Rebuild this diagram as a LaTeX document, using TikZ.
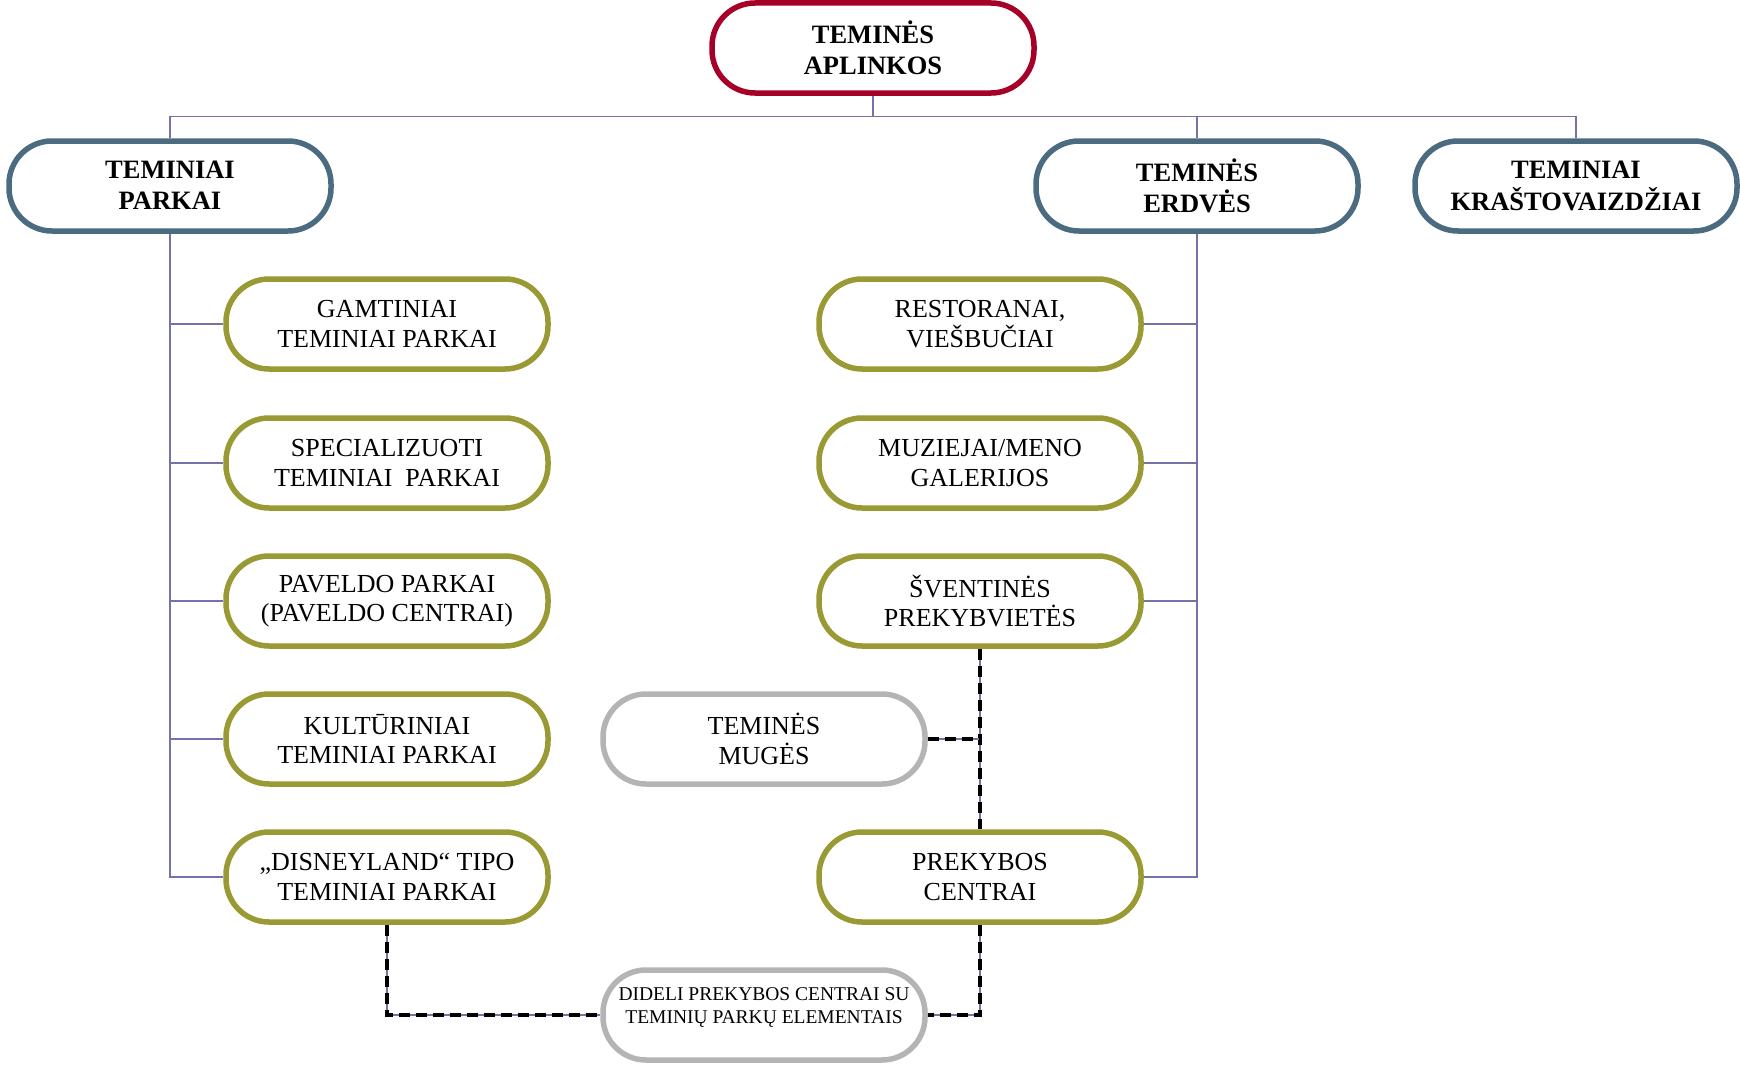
\documentclass[tikz,border=0pt]{standalone}
\usepackage{fontspec}
\setmainfont{Liberation Serif}
\usetikzlibrary{backgrounds}
\definecolor{cRed}{RGB}{166,0,40}
\definecolor{cBlue}{RGB}{74,107,128}
\definecolor{cOlive}{RGB}{154,154,52}
\definecolor{cGrey}{RGB}{180,180,180}
\definecolor{cLine}{RGB}{115,115,170}
\tikzset{
 base/.style={rectangle, rounded corners=43pt, minimum width=322pt, minimum height=90pt, line width=5.5pt, align=center, fill=white, inner sep=0pt},
 topbox/.style={base, draw=cRed, font=\bfseries\fontsize{26.5}{31}\selectfont},
 mainbox/.style={base, draw=cBlue, font=\bfseries\fontsize{26.5}{31}\selectfont},
 subbox/.style={base, draw=cOlive, font=\fontsize{26}{29.5}\selectfont},
 greybox/.style={base, draw=cGrey, font=\fontsize{26}{29.5}\selectfont},
 conn/.style={draw=cLine, line width=1.8pt},
 dconn/.style={preaction={draw=cLine, line width=1.5pt, solid}, draw=black, line width=3.3pt, dash pattern=on 11pt off 6pt},
}
\begin{document}
\begin{tikzpicture}[x=1pt,y=-1pt]
\useasboundingbox (0,0) rectangle (1740,1065);
% nodes
\node[topbox] (top) at (873,48) {TEMINĖS\\APLINKOS};
\node[mainbox] (tp) at (170,186) {\raisebox{-2pt}[\height][\depth]{\begin{tabular}{@{}c@{}}TEMINIAI\\PARKAI\end{tabular}}};
\node[mainbox] (te) at (1197,186) {TEMINĖS\\ERDVĖS};
\node[mainbox] (tk) at (1576,186) {\raisebox{-2pt}[\height][\depth]{\begin{tabular}{@{}c@{}}TEMINIAI\\KRAŠTOVAIZDŽIAI\end{tabular}}};
\node[subbox] (c1) at (387,324) {GAMTINIAI\\TEMINIAI PARKAI};
\node[subbox] (c2) at (387,463) {SPECIALIZUOTI\\TEMINIAI~~PARKAI};
\node[subbox] (c3) at (387,601) {PAVELDO PARKAI\\(PAVELDO CENTRAI)};
\node[subbox] (c4) at (387,739) {KULTŪRINIAI\\TEMINIAI PARKAI};
\node[subbox] (c5) at (387,877) {„DISNEYLAND“ TIPO\\TEMINIAI PARKAI};
\node[subbox] (r1) at (980,324) {RESTORANAI,\\VIEŠBUČIAI};
\node[subbox] (r2) at (980,463) {MUZIEJAI/MENO\\GALERIJOS};
\node[subbox] (r3) at (980,601) {ŠVENTINĖS\\PREKYBVIETĖS};
\node[subbox] (r4) at (980,877) {PREKYBOS\\CENTRAI};
\node[greybox] (mug) at (764,739) {TEMINĖS\\MUGĖS};
\node[greybox] (did) at (764,1015) {\raisebox{8pt}[\height][\depth]{\fontsize{19.5}{23}\selectfont\begin{tabular}{@{}c@{}}DIDELI PREKYBOS CENTRAI SU\\TEMINIŲ PARKŲ ELEMENTAIS\end{tabular}}};
\coordinate (busL) at (170,116.5);
\coordinate (busR) at (1576,116.5);
\begin{scope}[on background layer]
% bus
\draw[conn] (top.south) -- (top.south |- busL);
\draw[conn] (tp.north) -- (busL) -- (busR) -- (tk.north);
\draw[conn] (te.north) -- (te.north |- busL);
% left trunk
\draw[conn] (tp.south) -- (tp.south |- c5.west) -- (c5.west);
\draw[conn] (tp.south |- c1.west) -- (c1.west);
\draw[conn] (tp.south |- c2.west) -- (c2.west);
\draw[conn] (tp.south |- c3.west) -- (c3.west);
\draw[conn] (tp.south |- c4.west) -- (c4.west);
% right trunk
\draw[conn] (te.south) -- (te.south |- r4.east) -- (r4.east);
\draw[conn] (te.south |- r1.east) -- (r1.east);
\draw[conn] (te.south |- r2.east) -- (r2.east);
\draw[conn] (te.south |- r3.east) -- (r3.east);
% dashed
\draw[dconn] (r3.south) -- (r4.north);
\draw[dconn] (mug.east) -- (mug.east -| r3.south);
\draw[dconn] (c5.south) |- (did.west);
\draw[dconn] (r4.south) |- (did.east);
\end{scope}
\end{tikzpicture}
\end{document}
